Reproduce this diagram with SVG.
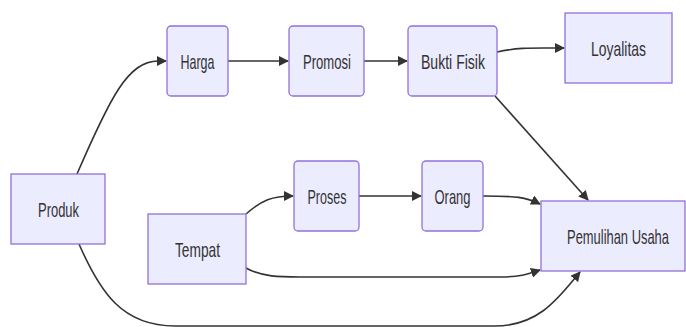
<svg xmlns="http://www.w3.org/2000/svg" width="686" height="327" viewBox="0 0 686 327">
<defs>
<marker id="arr" viewBox="0 0 10 10" refX="9" refY="5" markerUnits="userSpaceOnUse" markerWidth="10" markerHeight="10" orient="auto">
<path d="M0,0 L10,5 L0,10 z" fill="#333333"/>
</marker>
</defs>
<style>
.node rect{fill:#ECECFF;stroke:#9370DB;stroke-width:1.3}
.node text{font-family:"Liberation Sans",Arial,sans-serif;font-size:21px;fill:#333333;text-anchor:middle}
.edge{fill:none;stroke:#333333;stroke-width:1.6;marker-end:url(#arr)}
</style>
<rect width="686" height="327" fill="#ffffff"/>
<g id="connectors">
<path class="edge" d="M77,174 C110,98 128,61 158,61 L166,61"/>
<path class="edge" d="M228,61 L288,61"/>
<path class="edge" d="M364,61 L407,61"/>
<path class="edge" d="M497,52 C520,47 532,48 564,48"/>
<path class="edge" d="M495,96 L588,200"/>
<path class="edge" d="M246,214 C262,200 272,196 293,196"/>
<path class="edge" d="M359,196 L421,196"/>
<path class="edge" d="M483,196 C516,196 526,197 540,204"/>
<path class="edge" d="M246,268 C262,277 280,277 300,277 L500,277 C520,277 528,274 540,270"/>
<path class="edge" d="M79,244 C100,292 122,326 175,326 L495,326 C540,326 560,296 580,272"/>
</g>
<g id="produk" class="node"><rect x="11" y="174" width="94" height="70"/><text x="58.5" y="217" textLength="41" lengthAdjust="spacingAndGlyphs">Produk</text></g>
<g id="harga" class="node"><rect x="167" y="26" width="61" height="70" rx="4"/><text x="197.5" y="69" textLength="34" lengthAdjust="spacingAndGlyphs">Harga</text></g>
<g id="promosi" class="node"><rect x="289" y="26" width="75" height="70" rx="4"/><text x="327" y="69" textLength="48" lengthAdjust="spacingAndGlyphs">Promosi</text></g>
<g id="buktifisik" class="node"><rect x="408" y="26" width="89" height="70" rx="4"/><text x="453" y="69" textLength="64" lengthAdjust="spacingAndGlyphs">Bukti Fisik</text></g>
<g id="loyalitas" class="node"><rect x="565" y="13" width="107" height="70"/><text x="618.5" y="56" textLength="55" lengthAdjust="spacingAndGlyphs">Loyalitas</text></g>
<g id="tempat" class="node"><rect x="148" y="214" width="98" height="70"/><text x="197.5" y="257" textLength="45" lengthAdjust="spacingAndGlyphs">Tempat</text></g>
<g id="proses" class="node"><rect x="294" y="161" width="65" height="70" rx="4"/><text x="327" y="203.5" textLength="39" lengthAdjust="spacingAndGlyphs">Proses</text></g>
<g id="orang" class="node"><rect x="422" y="161" width="61" height="70" rx="4"/><text x="452.5" y="203.5" textLength="36" lengthAdjust="spacingAndGlyphs">Orang</text></g>
<g id="pemulihan" class="node"><rect x="541" y="201" width="144" height="70"/><text transform="translate(618,244) scale(0.615,1)" x="0" y="0">Pemulihan Usaha</text></g>
</svg>
